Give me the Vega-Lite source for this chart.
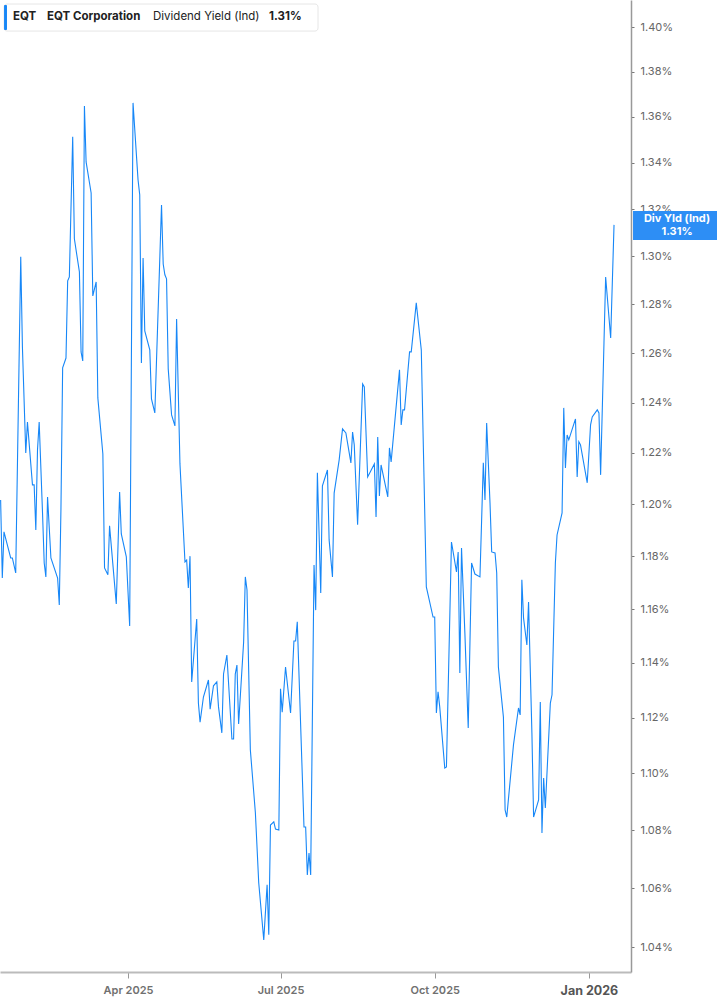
{
  "$schema": "https://vega.github.io/schema/vega-lite/v6.json",
  "width": 631,
  "height": 972,
  "autosize": {"type": "none"},
  "padding": {"top": 0, "left": 0, "right": 86, "bottom": 33},
  "background": "#ffffff",
  "config": {
    "view": {"stroke": null},
    "font": "Inter",
    "axis": {"grid": false, "title": null, "labelFont": "Inter"}
  },
  "datasets": {
    "eqt": [
      {"date": "2025-01-15", "yield": 1.2016},
      {"date": "2025-01-16", "yield": 1.1717},
      {"date": "2025-01-17", "yield": 1.1893},
      {"date": "2025-01-21", "yield": 1.1793},
      {"date": "2025-01-22", "yield": 1.1793},
      {"date": "2025-01-24", "yield": 1.1736},
      {"date": "2025-01-27", "yield": 1.2998},
      {"date": "2025-01-28", "yield": 1.2625},
      {"date": "2025-01-30", "yield": 1.22},
      {"date": "2025-01-31", "yield": 1.2323},
      {"date": "2025-02-03", "yield": 1.2075},
      {"date": "2025-02-04", "yield": 1.2075},
      {"date": "2025-02-05", "yield": 1.19},
      {"date": "2025-02-06", "yield": 1.2212},
      {"date": "2025-02-07", "yield": 1.2323},
      {"date": "2025-02-09", "yield": 1.1966},
      {"date": "2025-02-10", "yield": 1.1774},
      {"date": "2025-02-11", "yield": 1.1721},
      {"date": "2025-02-12", "yield": 1.2028},
      {"date": "2025-02-14", "yield": 1.1793},
      {"date": "2025-02-18", "yield": 1.1717},
      {"date": "2025-02-19", "yield": 1.1615},
      {"date": "2025-02-20", "yield": 1.1985},
      {"date": "2025-02-21", "yield": 1.254},
      {"date": "2025-02-23", "yield": 1.258},
      {"date": "2025-02-24", "yield": 1.2898},
      {"date": "2025-02-25", "yield": 1.2914},
      {"date": "2025-02-27", "yield": 1.3512},
      {"date": "2025-02-28", "yield": 1.3074},
      {"date": "2025-03-03", "yield": 1.2935},
      {"date": "2025-03-04", "yield": 1.2605},
      {"date": "2025-03-05", "yield": 1.2568},
      {"date": "2025-03-06", "yield": 1.3647},
      {"date": "2025-03-07", "yield": 1.3403},
      {"date": "2025-03-10", "yield": 1.3269},
      {"date": "2025-03-11", "yield": 1.2835},
      {"date": "2025-03-13", "yield": 1.2893},
      {"date": "2025-03-14", "yield": 1.2419},
      {"date": "2025-03-17", "yield": 1.2196},
      {"date": "2025-03-18", "yield": 1.1755},
      {"date": "2025-03-20", "yield": 1.1729},
      {"date": "2025-03-21", "yield": 1.1916},
      {"date": "2025-03-25", "yield": 1.1619},
      {"date": "2025-03-27", "yield": 1.2047},
      {"date": "2025-03-28", "yield": 1.1885},
      {"date": "2025-03-31", "yield": 1.1797},
      {"date": "2025-04-02", "yield": 1.1537},
      {"date": "2025-04-04", "yield": 1.3661},
      {"date": "2025-04-07", "yield": 1.3325},
      {"date": "2025-04-08", "yield": 1.3261},
      {"date": "2025-04-09", "yield": 1.256},
      {"date": "2025-04-10", "yield": 1.2993},
      {"date": "2025-04-11", "yield": 1.2691},
      {"date": "2025-04-14", "yield": 1.2613},
      {"date": "2025-04-15", "yield": 1.2415},
      {"date": "2025-04-17", "yield": 1.2359},
      {"date": "2025-04-21", "yield": 1.3218},
      {"date": "2025-04-22", "yield": 1.2968},
      {"date": "2025-04-23", "yield": 1.2923},
      {"date": "2025-04-24", "yield": 1.2906},
      {"date": "2025-04-25", "yield": 1.2536},
      {"date": "2025-04-27", "yield": 1.2351},
      {"date": "2025-04-29", "yield": 1.2307},
      {"date": "2025-04-30", "yield": 1.274},
      {"date": "2025-05-02", "yield": 1.2157},
      {"date": "2025-05-05", "yield": 1.1778},
      {"date": "2025-05-06", "yield": 1.1785},
      {"date": "2025-05-07", "yield": 1.1679},
      {"date": "2025-05-08", "yield": 1.18},
      {"date": "2025-05-09", "yield": 1.133},
      {"date": "2025-05-12", "yield": 1.1563},
      {"date": "2025-05-13", "yield": 1.1253},
      {"date": "2025-05-14", "yield": 1.1184},
      {"date": "2025-05-16", "yield": 1.1275},
      {"date": "2025-05-19", "yield": 1.1337},
      {"date": "2025-05-20", "yield": 1.1231},
      {"date": "2025-05-22", "yield": 1.1316},
      {"date": "2025-05-24", "yield": 1.133},
      {"date": "2025-05-25", "yield": 1.1239},
      {"date": "2025-05-27", "yield": 1.1145},
      {"date": "2025-05-28", "yield": 1.1359},
      {"date": "2025-05-30", "yield": 1.1429},
      {"date": "2025-06-02", "yield": 1.1123},
      {"date": "2025-06-03", "yield": 1.1123},
      {"date": "2025-06-04", "yield": 1.1359},
      {"date": "2025-06-05", "yield": 1.1392},
      {"date": "2025-06-06", "yield": 1.1177},
      {"date": "2025-06-09", "yield": 1.1478},
      {"date": "2025-06-10", "yield": 1.1721},
      {"date": "2025-06-11", "yield": 1.1672},
      {"date": "2025-06-13", "yield": 1.1084},
      {"date": "2025-06-16", "yield": 1.0861},
      {"date": "2025-06-18", "yield": 1.0618},
      {"date": "2025-06-21", "yield": 1.0424},
      {"date": "2025-06-23", "yield": 1.0611},
      {"date": "2025-06-24", "yield": 1.0441},
      {"date": "2025-06-25", "yield": 1.0818},
      {"date": "2025-06-27", "yield": 1.0829},
      {"date": "2025-06-28", "yield": 1.0804},
      {"date": "2025-06-30", "yield": 1.0801},
      {"date": "2025-07-01", "yield": 1.1305},
      {"date": "2025-07-02", "yield": 1.122},
      {"date": "2025-07-04", "yield": 1.1385},
      {"date": "2025-07-07", "yield": 1.1217},
      {"date": "2025-07-09", "yield": 1.1481},
      {"date": "2025-07-10", "yield": 1.1481},
      {"date": "2025-07-11", "yield": 1.1552},
      {"date": "2025-07-15", "yield": 1.0811},
      {"date": "2025-07-16", "yield": 1.0811},
      {"date": "2025-07-17", "yield": 1.0645},
      {"date": "2025-07-18", "yield": 1.0721},
      {"date": "2025-07-19", "yield": 1.0645},
      {"date": "2025-07-21", "yield": 1.1766},
      {"date": "2025-07-22", "yield": 1.1596},
      {"date": "2025-07-23", "yield": 1.2122},
      {"date": "2025-07-25", "yield": 1.166},
      {"date": "2025-07-26", "yield": 1.2071},
      {"date": "2025-07-29", "yield": 1.2133},
      {"date": "2025-07-30", "yield": 1.1862},
      {"date": "2025-08-01", "yield": 1.1721},
      {"date": "2025-08-02", "yield": 1.2043},
      {"date": "2025-08-05", "yield": 1.2173},
      {"date": "2025-08-07", "yield": 1.2295},
      {"date": "2025-08-09", "yield": 1.2279},
      {"date": "2025-08-12", "yield": 1.2161},
      {"date": "2025-08-13", "yield": 1.2283},
      {"date": "2025-08-14", "yield": 1.2232},
      {"date": "2025-08-16", "yield": 1.192},
      {"date": "2025-08-19", "yield": 1.2475},
      {"date": "2025-08-20", "yield": 1.2463},
      {"date": "2025-08-22", "yield": 1.2106},
      {"date": "2025-08-26", "yield": 1.2157},
      {"date": "2025-08-27", "yield": 1.195},
      {"date": "2025-08-28", "yield": 1.2263},
      {"date": "2025-08-29", "yield": 1.2032},
      {"date": "2025-08-30", "yield": 1.2153},
      {"date": "2025-09-03", "yield": 1.2028},
      {"date": "2025-09-04", "yield": 1.222},
      {"date": "2025-09-05", "yield": 1.2165},
      {"date": "2025-09-10", "yield": 1.2532},
      {"date": "2025-09-11", "yield": 1.2311},
      {"date": "2025-09-12", "yield": 1.2371},
      {"date": "2025-09-13", "yield": 1.2371},
      {"date": "2025-09-16", "yield": 1.2605},
      {"date": "2025-09-17", "yield": 1.2605},
      {"date": "2025-09-20", "yield": 1.2806},
      {"date": "2025-09-23", "yield": 1.2613},
      {"date": "2025-09-26", "yield": 1.1683},
      {"date": "2025-09-30", "yield": 1.157},
      {"date": "2025-10-01", "yield": 1.157},
      {"date": "2025-10-02", "yield": 1.1217},
      {"date": "2025-10-03", "yield": 1.1294},
      {"date": "2025-10-04", "yield": 1.1239},
      {"date": "2025-10-07", "yield": 1.1019},
      {"date": "2025-10-08", "yield": 1.1023},
      {"date": "2025-10-11", "yield": 1.1854},
      {"date": "2025-10-14", "yield": 1.174},
      {"date": "2025-10-15", "yield": 1.1816},
      {"date": "2025-10-16", "yield": 1.1363},
      {"date": "2025-10-17", "yield": 1.1831},
      {"date": "2025-10-19", "yield": 1.1511},
      {"date": "2025-10-21", "yield": 1.1163},
      {"date": "2025-10-23", "yield": 1.1774},
      {"date": "2025-10-25", "yield": 1.1732},
      {"date": "2025-10-28", "yield": 1.1721},
      {"date": "2025-10-30", "yield": 1.2161},
      {"date": "2025-10-31", "yield": 1.2016},
      {"date": "2025-11-01", "yield": 1.2319},
      {"date": "2025-11-03", "yield": 1.2004},
      {"date": "2025-11-04", "yield": 1.1816},
      {"date": "2025-11-06", "yield": 1.1812},
      {"date": "2025-11-07", "yield": 1.1736},
      {"date": "2025-11-08", "yield": 1.1385},
      {"date": "2025-11-11", "yield": 1.1202},
      {"date": "2025-11-12", "yield": 1.0871},
      {"date": "2025-11-13", "yield": 1.0846},
      {"date": "2025-11-17", "yield": 1.1102},
      {"date": "2025-11-20", "yield": 1.1235},
      {"date": "2025-11-21", "yield": 1.121},
      {"date": "2025-11-22", "yield": 1.171},
      {"date": "2025-11-23", "yield": 1.1567},
      {"date": "2025-11-25", "yield": 1.1466},
      {"date": "2025-11-26", "yield": 1.1626},
      {"date": "2025-11-28", "yield": 1.1145},
      {"date": "2025-11-29", "yield": 1.0846},
      {"date": "2025-12-02", "yield": 1.0906},
      {"date": "2025-12-03", "yield": 1.1257},
      {"date": "2025-12-04", "yield": 1.079},
      {"date": "2025-12-05", "yield": 1.0984},
      {"date": "2025-12-06", "yield": 1.0878},
      {"date": "2025-12-09", "yield": 1.1253},
      {"date": "2025-12-10", "yield": 1.1283},
      {"date": "2025-12-12", "yield": 1.1774},
      {"date": "2025-12-13", "yield": 1.1881},
      {"date": "2025-12-16", "yield": 1.1966},
      {"date": "2025-12-17", "yield": 1.2379},
      {"date": "2025-12-18", "yield": 1.2141},
      {"date": "2025-12-19", "yield": 1.2271},
      {"date": "2025-12-20", "yield": 1.2252},
      {"date": "2025-12-24", "yield": 1.2335},
      {"date": "2025-12-25", "yield": 1.2106},
      {"date": "2025-12-26", "yield": 1.2244},
      {"date": "2025-12-27", "yield": 1.2232},
      {"date": "2025-12-31", "yield": 1.2083},
      {"date": "2026-01-02", "yield": 1.2311},
      {"date": "2026-01-03", "yield": 1.2343},
      {"date": "2026-01-06", "yield": 1.2371},
      {"date": "2026-01-07", "yield": 1.2359},
      {"date": "2026-01-08", "yield": 1.2114},
      {"date": "2026-01-10", "yield": 1.2641},
      {"date": "2026-01-11", "yield": 1.2914},
      {"date": "2026-01-14", "yield": 1.2662},
      {"date": "2026-01-16", "yield": 1.3133}
    ]
  },
  "layer": [
    {
      "data": {"name": "eqt"},
      "mark": {"type": "line", "color": "#1787f7", "strokeWidth": 1.1},
      "encoding": {
        "x": {
          "field": "date",
          "type": "temporal",
          "title": null,
          "scale": {
            "type": "utc",
            "domain": [
              {"year": 2025, "month": 1, "date": 14, "hours": 15, "utc": true},
              {"year": 2026, "month": 1, "date": 26, "hours": 3, "utc": true}
            ]
          },
          "axis": {
            "orient": "bottom",
            "values": [
              {"year": 2025, "month": 4, "date": 1, "utc": true},
              {"year": 2025, "month": 7, "date": 1, "utc": true},
              {"year": 2025, "month": 10, "date": 1, "utc": true},
              {"year": 2026, "month": 1, "date": 1, "utc": true}
            ],
            "labelExpr": "utcFormat(datum.value, '%b %Y')",
            "labelFontSize": {"condition": {"test": "utcmonth(datum.value) === 0", "value": 12.5}, "value": 11},
            "labelFontWeight": {"condition": {"test": "utcmonth(datum.value) === 0", "value": "bold"}, "value": 600},
            "labelColor": {"condition": {"test": "utcmonth(datum.value) === 0", "value": "#555555"}, "value": "#707070"},
            "labelPadding": 6,
            "tickSize": 6,
            "tickColor": "#999999",
            "domainColor": "#bbbbbb",
            "domainWidth": 2
          }
        },
        "y": {
          "field": "yield",
          "type": "quantitative",
          "title": null,
          "scale": {"type": "log", "domain": [1.03164, 1.41228], "nice": false, "zero": false},
          "axis": {
            "orient": "right",
            "values": [1.04, 1.06, 1.08, 1.1, 1.12, 1.14, 1.16, 1.18, 1.2, 1.22, 1.24, 1.26, 1.28, 1.3, 1.32, 1.34, 1.36, 1.38, 1.4],
            "labelExpr": "format(datum.value, '.2f') + '%'",
            "labelColor": "#666666",
            "labelFontSize": 11,
            "labelPadding": 6,
            "tickSize": 3,
            "tickColor": "#777777",
            "domainColor": "#999999",
            "domainWidth": 1.5
          }
        }
      }
    },
    {
      "data": {"values": [{}]},
      "mark": {"type": "rect", "fill": "#ffffff", "stroke": "#e6e6e6", "strokeWidth": 1, "cornerRadius": 3},
      "encoding": {
        "x": {"datum": {"year": 2025, "month": 1, "date": 17, "hours": 1, "utc": true}, "axis": {"orient": "bottom"}},
        "x2": {"datum": {"year": 2025, "month": 7, "date": 23, "hours": 9, "utc": true}},
        "y": {"datum": 1.41045, "axis": {"orient": "right"}},
        "y2": {"datum": 1.39818}
      }
    },
    {
      "data": {"values": [{}]},
      "mark": {"type": "rect", "fill": "#1787f7", "cornerRadius": 1},
      "encoding": {
        "x": {"datum": {"year": 2025, "month": 1, "date": 17, "hours": 1, "utc": true}, "axis": {"orient": "bottom"}},
        "x2": {"datum": {"year": 2025, "month": 1, "date": 18, "hours": 19, "utc": true}},
        "y": {"datum": 1.4100, "axis": {"orient": "right"}},
        "y2": {"datum": 1.3987}
      }
    },
    {
      "data": {"values": [{"label": "EQT", "d": "2025-01-22T09:00:00Z"}, {"label": "EQT Corporation", "d": "2025-02-11T16:00:00Z"}, {"label": "1.31%", "d": "2025-06-24T03:00:00Z"}]},
      "mark": {"type": "text", "align": "left", "baseline": "middle", "fontSize": 11.5, "fontWeight": "bold", "color": "#222222", "font": "Inter"},
      "encoding": {
        "x": {"field": "d", "type": "temporal", "axis": {"orient": "bottom"}},
        "y": {"datum": 1.4045, "axis": {"orient": "right"}},
        "text": {"field": "label"}
      }
    },
    {
      "data": {"values": [{"label": "Dividend Yield (Ind)", "d": "2025-04-15T22:00:00Z"}]},
      "mark": {"type": "text", "align": "left", "baseline": "middle", "fontSize": 11.5, "fontWeight": "normal", "color": "#222222", "font": "Inter"},
      "encoding": {
        "x": {"field": "d", "type": "temporal", "axis": {"orient": "bottom"}},
        "y": {"datum": 1.4045, "axis": {"orient": "right"}},
        "text": {"field": "label"}
      }
    },
    {
      "data": {"values": [{}]},
      "mark": {"type": "rect", "fill": "#2d8ef5"},
      "encoding": {
        "x": {"datum": {"year": 2026, "month": 1, "date": 27, "hours": 8, "utc": true}, "axis": {"orient": "bottom"}},
        "x2": {"datum": {"year": 2026, "month": 3, "date": 18, "hours": 11, "utc": true}},
        "y": {"datum": 1.31922, "axis": {"orient": "right"}},
        "y2": {"datum": 1.30689}
      }
    },
    {
      "data": {"values": [{"label": "Div Yld (Ind)", "v": 1.31581}, {"label": "1.31%", "v": 1.31029}]},
      "mark": {"type": "text", "align": "center", "baseline": "middle", "fontSize": 11, "fontWeight": "bold", "color": "#ffffff", "font": "Inter"},
      "encoding": {
        "x": {"datum": {"year": 2026, "month": 2, "date": 22, "hours": 14, "utc": true}, "axis": {"orient": "bottom"}},
        "y": {"field": "v", "type": "quantitative", "axis": {"orient": "right"}},
        "text": {"field": "label"}
      }
    }
  ]
}
